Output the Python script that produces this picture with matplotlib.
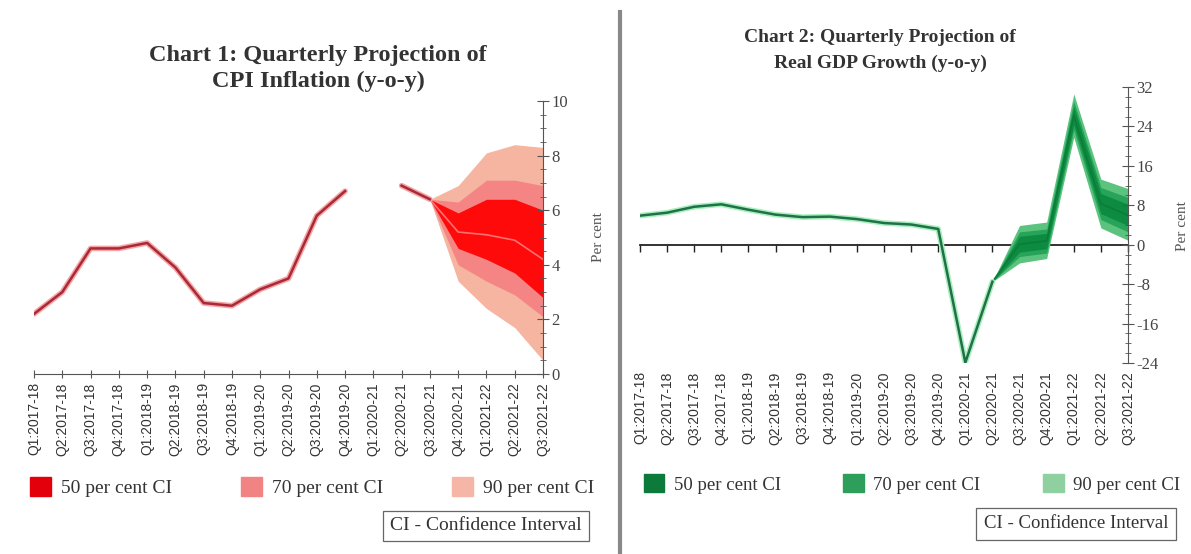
import numpy as np
import matplotlib.pyplot as plt
from matplotlib.patches import Patch
from matplotlib.ticker import MultipleLocator

plt.rcParams['axes.unicode_minus'] = False

# quarters shown on both charts
quarters = ['Q1:2017-18', 'Q2:2017-18', 'Q3:2017-18', 'Q4:2017-18',
            'Q1:2018-19', 'Q2:2018-19', 'Q3:2018-19', 'Q4:2018-19',
            'Q1:2019-20', 'Q2:2019-20', 'Q3:2019-20', 'Q4:2019-20',
            'Q1:2020-21', 'Q2:2020-21', 'Q3:2020-21', 'Q4:2020-21',
            'Q1:2021-22', 'Q2:2021-22', 'Q3:2021-22']

# Chart 1: CPI inflation (actual up to Q3:2020-21, Q1:2020-21 missing)
cpi_actual = [2.2, 3.0, 4.6, 4.6, 4.8, 3.9, 2.6, 2.5, 3.1, 3.5, 5.8, 6.7,
              np.nan, 6.9, 6.4]
# projection from Q3:2020-21 onwards
cpi_proj = [6.4, 5.2, 5.1, 4.9, 4.2]
cpi_50_lo = [6.4, 4.6, 4.2, 3.7, 2.8]
cpi_50_hi = [6.4, 5.9, 6.4, 6.4, 6.0]
cpi_70_lo = [6.4, 4.0, 3.4, 2.9, 2.1]
cpi_70_hi = [6.4, 6.3, 7.1, 7.1, 6.9]
cpi_90_lo = [6.4, 3.4, 2.4, 1.7, 0.5]
cpi_90_hi = [6.4, 6.9, 8.1, 8.4, 8.3]

# Chart 2: real GDP growth (actual up to Q2:2020-21)
gdp_actual = [5.9, 6.5, 7.7, 8.2, 7.1, 6.1, 5.6, 5.7, 5.2, 4.4, 4.1, 3.2,
              -23.9, -7.5]
# projection from Q2:2020-21 onwards
gdp_proj = [-7.5, 0.1, 0.8, 26.2, 8.3, 6.0]
gdp_50_lo = [-7.5, -1.5, -0.8, 24.4, 6.3, 3.9]
gdp_50_hi = [-7.5, 1.7, 2.3, 28.0, 10.4, 8.2]
gdp_70_lo = [-7.5, -2.4, -1.7, 23.3, 5.1, 2.6]
gdp_70_hi = [-7.5, 2.6, 3.2, 29.1, 11.6, 9.6]
gdp_90_lo = [-7.5, -3.7, -2.8, 21.8, 3.4, 0.9]
gdp_90_hi = [-7.5, 3.9, 4.6, 30.6, 13.3, 11.4]

W, H = 1191, 554
fig = plt.figure(figsize=(W / 100, H / 100), dpi=100)
serif = 'Liberation Serif'
grey = '#555555'


def px_box(x0, x1, ytop, ybot):
    return [x0 / W, 1 - ybot / H, (x1 - x0) / W, (ybot - ytop) / H]


def style_axis(ax, ymin, ymax, major, minor):
    ax.set_xlim(0, len(quarters) - 1)
    ax.set_ylim(ymin, ymax)
    ax.yaxis.tick_right()
    ax.yaxis.set_major_locator(MultipleLocator(major))
    ax.yaxis.set_minor_locator(MultipleLocator(minor))
    ax.tick_params(axis='y', which='major', direction='inout', length=8,
                   color=grey, labelsize=12, labelcolor='#444444', pad=2)
    ax.tick_params(axis='y', which='minor', direction='inout', length=4,
                   color=grey)
    for lab in ax.get_yticklabels():
        lab.set_fontfamily(serif)
    ax.spines['left'].set_visible(False)
    ax.spines['top'].set_visible(False)
    ax.spines['right'].set_color(grey)
    ax.set_xticks(range(len(quarters)))
    ax.set_xticklabels(quarters, rotation=90, fontsize=10,
                       family='Liberation Sans', color='#333333')
    ax.patch.set_alpha(0)


# ---- Chart 1 ----
ax1 = fig.add_axes(px_box(34, 543, 101, 374))
style_axis(ax1, 0, 10, 2, 0.5)
ax1.spines['bottom'].set_color(grey)
ax1.tick_params(axis='x', direction='inout', length=6, color=grey, pad=3)

x_act = np.arange(len(cpi_actual))
x_proj = np.arange(14, 14 + len(cpi_proj))
ax1.fill_between(x_proj, cpi_90_lo, cpi_90_hi, color='#F5B5A0', lw=0)
ax1.fill_between(x_proj, cpi_70_lo, cpi_70_hi, color='#F58585', lw=0)
ax1.fill_between(x_proj, cpi_50_lo, cpi_50_hi, color='#FF0A0A', lw=0)
ax1.plot(x_proj, cpi_proj, color='#FF7070', lw=1.2)
ax1.plot(x_act, cpi_actual, color='#F6A3A3', lw=4, solid_capstyle='round')
ax1.plot(x_act, cpi_actual, color='#A82A38', lw=1.8)

fig.text(318 / W, 1 - 55 / H, 'Chart 1: Quarterly Projection of',
         ha='center', va='center', family=serif, weight='bold',
         fontsize=17.5, color='#333333')
fig.text(318 / W, 1 - 81 / H, 'CPI Inflation (y-o-y)',
         ha='center', va='center', family=serif, weight='bold',
         fontsize=17.5, color='#333333')
fig.text(598 / W, 1 - 237 / H, 'Per cent', rotation=90, ha='center',
         va='center', family=serif, fontsize=11, color='#555555')

h1 = [Patch(color='#E3000B', label='50 per cent CI'),
      Patch(color='#F28383', label='70 per cent CI'),
      Patch(color='#F5B6A8', label='90 per cent CI')]
fig.legend(handles=h1, loc='lower left', ncol=3, mode='expand',
           bbox_to_anchor=(22 / W, 1 - 505 / H, 580 / W, 24 / H),
           frameon=False, handlelength=1.1, handleheight=1.1,
           handletextpad=0.5, prop={'family': serif, 'size': 14},
           labelcolor='#333333', borderaxespad=0)
fig.text(486 / W, 1 - 526 / H, 'CI - Confidence Interval', ha='center',
         va='center', family=serif, fontsize=14, color='#333333',
         bbox=dict(boxstyle='square,pad=0.35', fc='white', ec='#666666',
                   lw=0.9))

# ---- Chart 2 ----
ax2 = fig.add_axes(px_box(640, 1128, 87, 363))
style_axis(ax2, -24, 32, 8, 2)
ax2.spines['bottom'].set_visible(False)
ax2.tick_params(axis='x', length=0, pad=6)
zero_pos = (0 - (-24)) / (32 - (-24))
sec = ax2.secondary_xaxis(zero_pos)
sec.set_xticks(range(len(quarters)))
sec.set_xticklabels([])
sec.tick_params(direction='out', length=5, color='#222222', width=1)
sec.spines['bottom'].set_color('#222222')
sec.spines['bottom'].set_linewidth(1.3)

gx_act = np.arange(len(gdp_actual))
gx_proj = np.arange(13, 13 + len(gdp_proj))
ax2.fill_between(gx_proj, gdp_90_lo, gdp_90_hi, color='#5CC37F', lw=0)
ax2.fill_between(gx_proj, gdp_70_lo, gdp_70_hi, color='#27A459', lw=0)
ax2.fill_between(gx_proj, gdp_50_lo, gdp_50_hi, color='#0D8B40', lw=0)
ax2.plot(gx_proj, gdp_proj, color='#0B7D3A', lw=1.2)
ax2.plot(gx_act, gdp_actual, color='#A6F0BC', lw=4, solid_capstyle='round')
ax2.plot(gx_act, gdp_actual, color='#22704A', lw=1.8)

fig.text(880 / W, 1 - 38 / H, 'Chart 2: Quarterly Projection of',
         ha='center', va='center', family=serif, weight='bold',
         fontsize=14, color='#333333')
fig.text(880 / W, 1 - 63 / H, 'Real GDP Growth (y-o-y)',
         ha='center', va='center', family=serif, weight='bold',
         fontsize=14, color='#333333')
fig.text(1183 / W, 1 - 226 / H, 'Per cent', rotation=90, ha='center',
         va='center', family=serif, fontsize=11, color='#555555')

h2 = [Patch(color='#0B7A3B', label='50 per cent CI'),
      Patch(color='#2E9E5B', label='70 per cent CI'),
      Patch(color='#8FD0A0', label='90 per cent CI')]
fig.legend(handles=h2, loc='lower left', ncol=3, mode='expand',
           bbox_to_anchor=(636 / W, 1 - 501 / H, 552 / W, 24 / H),
           frameon=False, handlelength=1.1, handleheight=1.1,
           handletextpad=0.5, prop={'family': serif, 'size': 13.5},
           labelcolor='#333333', borderaxespad=0)
fig.text(1076 / W, 1 - 524 / H, 'CI - Confidence Interval', ha='center',
         va='center', family=serif, fontsize=13.5, color='#333333',
         bbox=dict(boxstyle='square,pad=0.4', fc='white', ec='#666666',
                   lw=0.9))

# divider between the two panels
fig.add_artist(plt.Line2D([620 / W, 620 / W], [0, 1 - 12 / H],
                          transform=fig.transFigure, color='#888888', lw=3))

fig.savefig('out.png', dpi=100)
